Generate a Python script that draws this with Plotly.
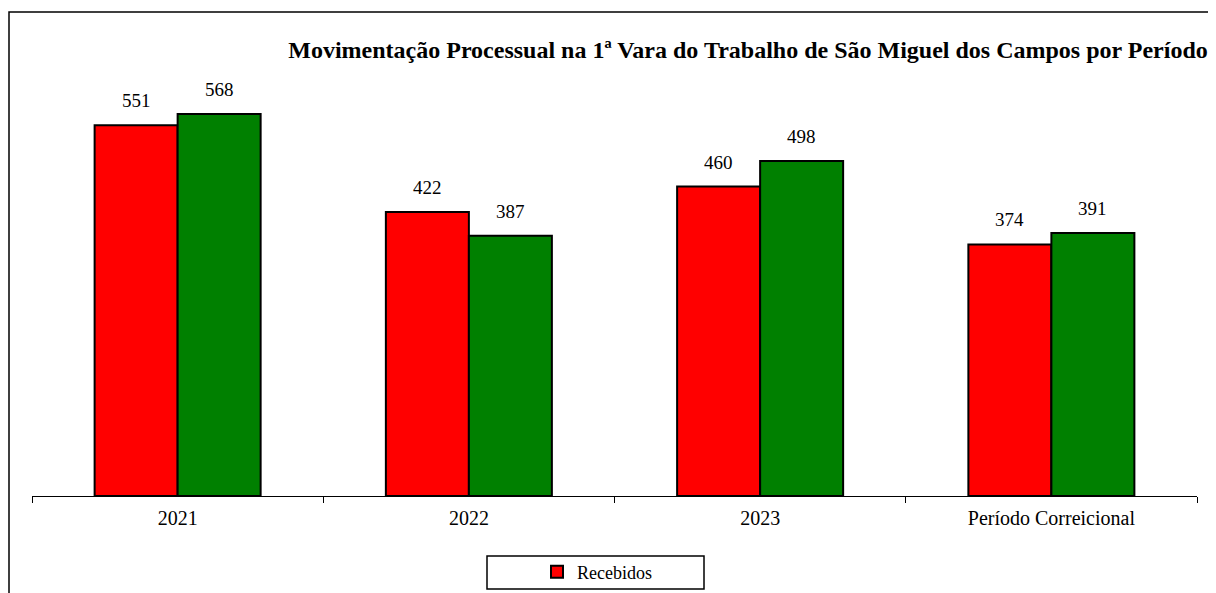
import plotly.graph_objects as go

# data
periods = ["2021", "2022", "2023", "Período Correicional"]
recebidos = [551, 422, 460, 374]
solucionados = [568, 387, 498, 391]

# page body has an 8px margin, so the figure is drawn 8px in from the window
OFF = 8
W, H = 1216 - OFF, 593 - OFF
AXIS_LEFT, AXIS_RIGHT, AXIS_Y, PLOT_TOP = 32, 1197, 496, 60  # screen px
ML = AXIS_LEFT - OFF
MR = W - (AXIS_RIGHT - OFF)
MT = PLOT_TOP - OFF
MB = H - (AXIS_Y - OFF)
PX_PER_UNIT = 0.6727
plot_w = W - ML - MR
plot_h = H - MT - MB
y_max = plot_h / PX_PER_UNIT


def px_x(px):
    return (px - OFF - ML) / plot_w


def px_y(py):
    return (H - MB - (py - OFF)) / plot_h


serif = "Liberation Serif, Times New Roman, serif"

fig = go.Figure()
fig.add_trace(go.Bar(
    x=periods, y=recebidos, name="Recebidos",
    marker=dict(color="#FF0000", line=dict(color="black", width=2)),
))
fig.add_trace(go.Bar(
    x=periods, y=solucionados, name="Solucionados", showlegend=False,
    marker=dict(color="#008000", line=dict(color="black", width=2)),
))

# value labels above bars (numeric category index so "2021" isn't read as a position)
for i, (r, s) in enumerate(zip(recebidos, solucionados)):
    for val, shift in ((r, -41.5), (s, 41.5)):
        fig.add_annotation(
            x=i, y=val, text=str(val), showarrow=False,
            xshift=shift, yshift=12, yanchor="bottom",
            font=dict(family=serif, size=19, color="black"),
        )

# outer frame
fig.add_shape(
    type="rect", xref="paper", yref="paper",
    x0=px_x(9), x1=px_x(1240), y0=px_y(620), y1=px_y(12),
    line=dict(color="black", width=1.5), layer="below",
)
# legend frame
fig.add_shape(
    type="rect", xref="paper", yref="paper",
    x0=px_x(487), x1=px_x(704), y0=px_y(589), y1=px_y(556),
    line=dict(color="black", width=1.5),
)

fig.update_layout(
    width=W, height=H,
    margin=dict(l=ML, r=MR, t=MT, b=MB, autoexpand=False),
    paper_bgcolor="white", plot_bgcolor="white",
    barmode="group", bargap=0.43, bargroupgap=0,
    font=dict(family=serif, color="black"),
    title=dict(
        text="<b>Movimentação Processual na 1ª Vara do Trabalho de São Miguel dos Campos por Período</b>",
        x=px_x(748), xref="paper", xanchor="center",
        y=1 - (50 - OFF) / H, yanchor="middle",
        font=dict(family=serif, size=24, color="black"),
    ),
    legend=dict(
        orientation="h", x=px_x(597), xanchor="center",
        y=px_y(572), yanchor="middle",
        bgcolor="rgba(0,0,0,0)", borderwidth=0,
        font=dict(family=serif, size=18, color="black"),
    ),
    showlegend=True,
)
fig.update_xaxes(
    type="category", automargin=False, range=[-0.5, 3.5],
    showline=True, linecolor="black", linewidth=1,
    ticks="outside", tickson="boundaries", ticklen=6, tickcolor="black",
    showgrid=False, tickangle=0, ticklabelstandoff=4,
    tickfont=dict(family=serif, size=20, color="black"),
)
fig.update_yaxes(
    range=[0, y_max], visible=False, showgrid=False, zeroline=False,
)

fig.write_html("out.html")
